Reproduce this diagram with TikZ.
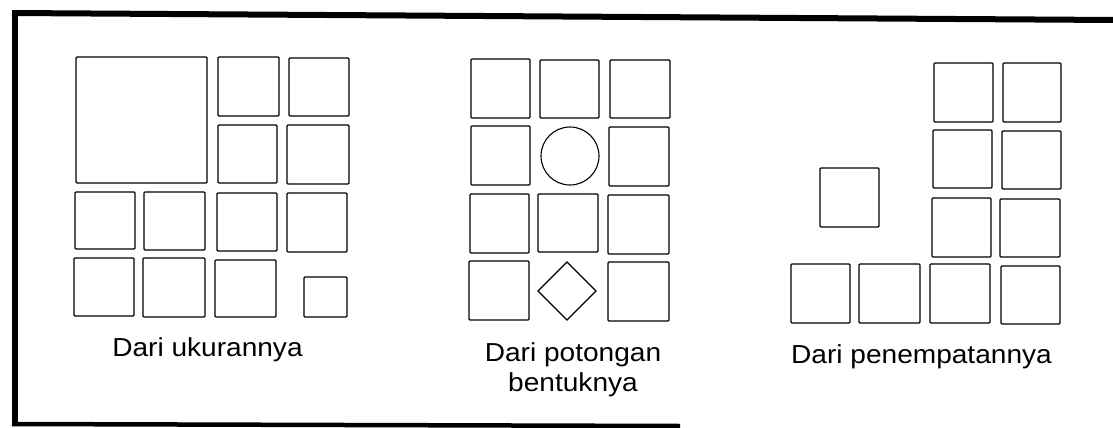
\documentclass[tikz,border=0pt]{standalone}
\usepackage{fontspec}
\setmainfont{Liberation Sans}
\newfontfamily\lblfont[FakeStretch=1.08]{Liberation Sans}
\begin{document}
\begin{tikzpicture}[x=1pt,y=-1pt,
  tile/.style={draw=black,line width=1.1pt,rounded corners=1pt},
  lbl/.style={font=\lblfont\fontsize{26}{30}\selectfont,inner sep=0pt,anchor=base,align=center},
  frameline/.style={draw=black,line cap=butt}]
\useasboundingbox (0,0) rectangle (1113,428);
% frame
\draw[frameline,line width=6pt] (12,13) -- (1113,20);
\draw[frameline,line width=6pt] (15,10) -- (15,426);
\draw[frameline,line width=4.5pt] (12,424) -- (680,426);
% panel 1
\draw[tile] (76,57) rectangle (207,183);
\draw[tile] (218,57) rectangle (279,116);
\draw[tile] (289,58) rectangle (349,116);
\draw[tile] (218,125) rectangle (277,183);
\draw[tile] (287,125) rectangle (349,184);
\draw[tile] (75,192) rectangle (135,249);
\draw[tile] (144,192) rectangle (205,250);
\draw[tile] (217,193) rectangle (277,251);
\draw[tile] (287,193) rectangle (347,252);
\draw[tile] (74,258) rectangle (134,316);
\draw[tile] (143,258) rectangle (205,317);
\draw[tile] (215,260) rectangle (276,317);
\draw[tile] (304,277) rectangle (347,317);
\node[lbl] (l1) at (207.5,356) {Dari ukurannya};
% panel 2
\draw[tile] (471,59) rectangle (530,118);
\draw[tile] (540,60) rectangle (599,118);
\draw[tile] (610,60) rectangle (670,118);
\draw[tile] (471,126) rectangle (530,185);
\draw[line width=1.1pt] (570,156) circle (29);
\draw[tile] (609,127) rectangle (669,186);
\draw[tile] (470,194) rectangle (529,253);
\draw[tile] (538,194) rectangle (598,252);
\draw[tile] (608,195) rectangle (669,254);
\draw[tile] (469,261) rectangle (529,320);
\draw[line width=1.1pt,line join=miter] (567,262) -- (596,291) -- (567,320) -- (538,291) -- cycle;
\draw[tile] (608,262) rectangle (669,321);
\node[lbl] (l2) at (573,391) {Dari potongan\\bentuknya};
% panel 3
\draw[tile] (934,63) rectangle (993,122);
\draw[tile] (1003,63) rectangle (1061,122);
\draw[tile] (933,130) rectangle (992,188);
\draw[tile] (1002,131) rectangle (1061,189);
\draw[tile] (932,198) rectangle (991,257);
\draw[tile] (1000,199) rectangle (1060,257);
\draw[tile] (820,168) rectangle (879,227);
\draw[tile] (791,264) rectangle (850,323);
\draw[tile] (859,264) rectangle (920,323);
\draw[tile] (930,264) rectangle (990,323);
\draw[tile] (1001,266) rectangle (1060,324);
\node[lbl] (l3) at (921.5,363) {Dari penempatannya};
\end{tikzpicture}
\end{document}
